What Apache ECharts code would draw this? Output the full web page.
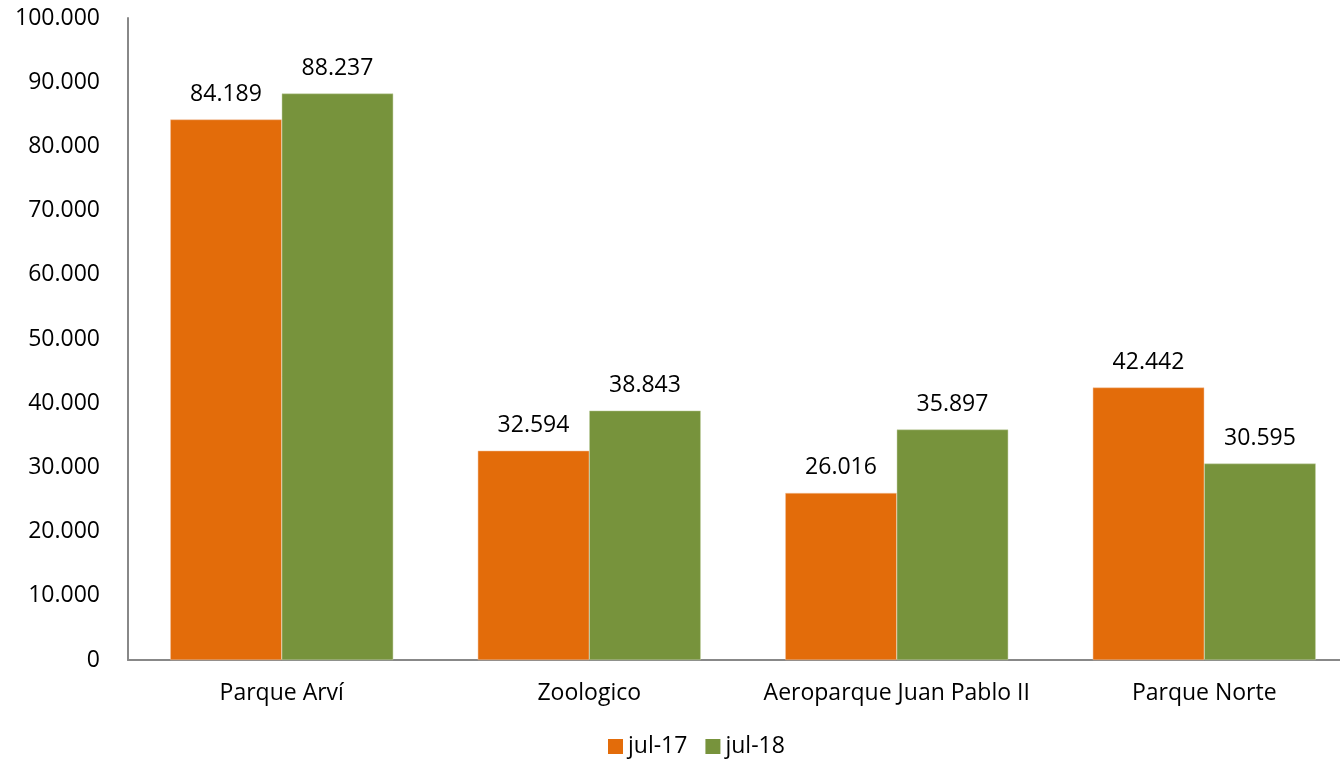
<!DOCTYPE html>
<html>
<head>
<meta charset="utf-8">
<script src="https://cdn.jsdelivr.net/npm/echarts@6/dist/echarts.min.js"></script>
<style>
  html, body { margin: 0; padding: 0; background: #fff; overflow: hidden; }
  #chart { width: 1358px; height: 763px; }
</style>
</head>
<body>
<div id="chart"></div>
<script>
// datos
const categories = ['Parque Arví', 'Zoologico', 'Aeroparque Juan Pablo II', 'Parque Norte'];
const seriesNames = ['jul-17', 'jul-18'];
const jul17 = [84189, 32594, 26016, 42442];
const jul18 = [88237, 38843, 35897, 30595];

const FONT = 'Open Sans';
const fmt = (v) => String(v).replace(/\B(?=(\d{3})+(?!\d))/g, '.');

const chart = echarts.init(document.getElementById('chart'));

const barLabel = {
  show: true,
  position: 'top',
  distance: 14,
  color: '#000',
  fontFamily: FONT,
  fontSize: 23,
  formatter: (p) => fmt(p.value)
};

chart.setOption({
  animation: false,
  textStyle: { fontFamily: FONT },
  grid: { left: 128, right: 0, top: 18, bottom: 103, containLabel: false },
  legend: {
    bottom: 0,
    left: 603,
    itemWidth: 15,
    itemHeight: 15,
    itemGap: 18,
    icon: 'rect',
    itemStyle: { borderWidth: 0 },
    textStyle: { fontFamily: FONT, fontSize: 23, color: '#000' },
    data: seriesNames
  },
  xAxis: {
    type: 'category',
    data: categories,
    axisLine: { lineStyle: { color: '#888', width: 2 } },
    axisTick: { show: false },
    axisLabel: { interval: 0, color: '#000', fontFamily: FONT, fontSize: 23, margin: 22 }
  },
  yAxis: {
    type: 'value',
    min: 0,
    max: 100000,
    interval: 10000,
    axisLine: { show: true, lineStyle: { color: '#888', width: 2 } },
    axisTick: { show: false },
    splitLine: { show: false },
    axisLabel: {
      color: '#000', fontFamily: FONT, fontSize: 23, margin: 28,
      formatter: (v) => fmt(v)
    }
  },
  series: [
    {
      name: seriesNames[0],
      type: 'bar',
      data: jul17,
      barGap: '0%',
      barCategoryGap: '27.5%',
      itemStyle: { color: '#E36C0A', borderColor: '#F2C3A0', borderWidth: 0.5 },
      label: barLabel
    },
    {
      name: seriesNames[1],
      type: 'bar',
      data: jul18,
      barGap: '0%',
      barCategoryGap: '27.5%',
      itemStyle: { color: '#77933C', borderColor: '#C5D3A8', borderWidth: 0.5 },
      label: barLabel
    }
  ]
});
</script>
</body>
</html>
